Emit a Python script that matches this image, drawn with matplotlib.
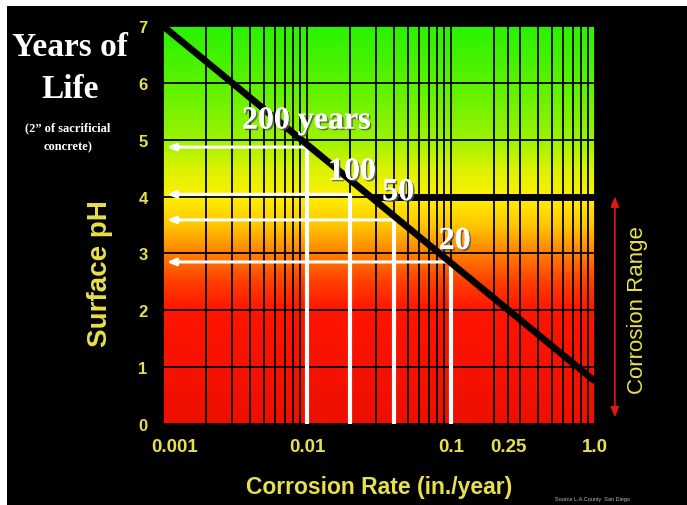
import numpy as np
import matplotlib
matplotlib.use("Agg")
import matplotlib.pyplot as plt
from matplotlib.colors import LinearSegmentedColormap
from matplotlib.patches import Rectangle
import matplotlib.patheffects as pe

# ---- data ----
life_x = [0.001, 1.0]
life_ph = [7.0, 0.75]
threshold_ph = 4.0
threshold_x = [0.028, 1.0]
years = ["200 years", "100", "50", "20"]
rates = [0.01, 0.02, 0.04, 0.1]
arrow_ph = [4.87, 4.04, 3.59, 2.85]
label_x = [0.0099, 0.0205, 0.043, 0.106]
label_ph = [5.33, 4.43, 4.07, 3.21]
xtick_values = [0.001, 0.01, 0.1, 0.25, 1.0]
xtick_labels = ["0.001", "0.01", "0.1", "0.25", "1.0"]
ytick_values = [0, 1, 2, 3, 4, 5, 6, 7]

YEL = "#E8E04A"
SANS = "Liberation Sans"
SERIF = "Liberation Serif"

fig = plt.figure(figsize=(6.87, 5.06), dpi=100, facecolor="black")
ax = fig.add_axes([163/687, 81/506, 432/687, 398/506])
ax.set_facecolor("black")
ax.set_xscale("log")
ax.set_xlim(0.001, 1.0)
ax.set_ylim(0, 7)

# gradient background (pH 0 bottom .. 7 top)
stops = [(0.0, (0.93, 0.06, 0.0)), (2.0/7, (1.0, 0.08, 0.0)), (2.5/7, (1.0, 0.25, 0.0)),
         (3.0/7, (1.0, 0.50, 0.0)), (3.5/7, (1.0, 0.78, 0.0)), (4.0/7, (1.0, 0.94, 0.0)),
         (4.5/7, (0.85, 0.95, 0.0)), (5.0/7, (0.62, 0.95, 0.0)), (6.0/7, (0.35, 0.95, 0.0)),
         (1.0, (0.16, 0.95, 0.0))]
cmap = LinearSegmentedColormap.from_list("ph", stops)
grad = np.linspace(0, 1, 400).reshape(-1, 1)
ax.imshow(grad, cmap=cmap, origin="lower", extent=[0, 1, 0, 1], aspect="auto",
          transform=ax.transAxes, zorder=0)

ax.set_xticks(xtick_values)
ax.set_xticklabels([])
ax.set_yticks(ytick_values)
ax.set_yticklabels([str(v) for v in ytick_values], color=YEL, fontsize=12,
                   fontweight="bold", family=SANS)
ax.tick_params(axis="both", which="both", length=0)
ax.tick_params(axis="y", pad=11)
ax.grid(True, which="both", color="black", linewidth=1.3, zorder=1)
ax.set_axisbelow(False)
for s in ax.spines.values():
    s.set_visible(False)

for v, t in zip(xtick_values, xtick_labels):
    dx = 12 if v == xtick_values[0] else 0
    ax.annotate(t, xy=(v, 0), xycoords=("data", "axes fraction"),
                xytext=(dx * 0.72, -16), textcoords="offset points",
                ha="center", va="center", color=YEL, fontsize=13.5,
                fontweight="bold", family=SANS)

# white vertical lines and arrows
for r, p in zip(rates, arrow_ph):
    ax.plot([r, r], [0, p], color="white", lw=3.0, zorder=3, solid_capstyle="butt")
    ax.annotate("", xy=(0.00106, p), xytext=(r, p),
                arrowprops=dict(arrowstyle="-|>,head_length=0.5,head_width=0.2",
                                color="white", lw=2.2, shrinkA=0, shrinkB=0),
                zorder=3)

# life line and threshold
ax.plot(life_x, life_ph, color="black", lw=4.8, zorder=4, solid_capstyle="butt")
ax.plot(threshold_x, [threshold_ph, threshold_ph], color="black", lw=5, zorder=4,
        solid_capstyle="butt")

for t, x, y in zip(years, label_x, label_ph):
    ax.text(x, y, t, ha="center", va="center", color="white", fontsize=23,
            fontweight="bold", family=SERIF, zorder=6,
            path_effects=[pe.withSimplePatchShadow(offset=(1.2, -1.2), shadow_rgbFace="#555555", alpha=0.8),
                          pe.Normal()])

# corrosion range arrow
ax.annotate("", xy=(1.046, 4.0), xycoords=("axes fraction", "data"),
            xytext=(1.046, 0.12), textcoords=("axes fraction", "data"),
            arrowprops=dict(arrowstyle="<|-|>,head_length=0.6,head_width=0.25",
                            color="#E01818", lw=1.2, shrinkA=0, shrinkB=0),
            annotation_clip=False)

fig.text(638/687, 1 - 310/506, "Corrosion Range", rotation=90, ha="center", va="center",
         color=YEL, fontsize=16, family=SANS)
fig.text(100/687, 1 - 274/506, "Surface pH", rotation=90, ha="center", va="center",
         color=YEL, fontsize=20, fontweight="bold", family=SANS)
fig.text(379/687, 1 - 488/506, "Corrosion Rate (in./year)", ha="center", va="center",
         color=YEL, fontsize=16.5, fontweight="bold", family=SANS)

fig.text(70/687, 1 - 47/506, "Years of", ha="center", va="center", color="white",
         fontsize=24, fontweight="bold", family=SERIF)
fig.text(70/687, 1 - 90/506, "Life", ha="center", va="center", color="white",
         fontsize=24, fontweight="bold", family=SERIF)
fig.text(68/687, 1 - 128/506, "(2\u201d of sacrificial", ha="center", va="center",
         color="white", fontsize=9, fontweight="bold", family=SERIF)
fig.text(68/687, 1 - 147/506, "concrete)", ha="center", va="center",
         color="white", fontsize=9, fontweight="bold", family=SERIF)

fig.text(555/687, 6/506, "Source L.A.County  San Diego", ha="left", va="center",
         color="#BBBBBB", fontsize=4, family=SANS)

# white frame strips at top and left
fig.patches.append(Rectangle((0, 1 - 7/506), 1, 7/506, transform=fig.transFigure,
                             facecolor="white", edgecolor="none", zorder=10))
fig.patches.append(Rectangle((0, 0), 7/687, 1, transform=fig.transFigure,
                             facecolor="white", edgecolor="none", zorder=10))

fig.savefig("out.png", dpi=100, facecolor="black")
